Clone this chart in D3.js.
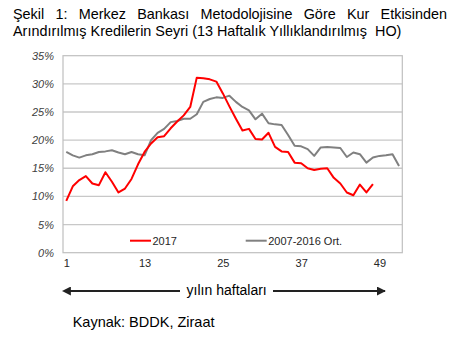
<!DOCTYPE html>
<html>
<head>
<meta charset="utf-8">
<script src="https://cdn.jsdelivr.net/npm/d3@7"></script>
<style>
  html, body { margin: 0; padding: 0; background: #fff; }
  svg { display: block; font-family: Arial, "Liberation Sans", sans-serif; }
</style>
</head>
<body>
<svg id="chart" width="451" height="339"></svg>
<script>
// Weekly annualised (13-week) credit growth, %
const weeks = d3.range(1, 53);
const series2017 = [
  9.2, 11.8, 12.9, 13.6, 12.3, 12.0, 14.3, 12.6, 10.7, 11.4,
  13.1, 15.7, 17.9, 19.4, 20.5, 20.7, 22.1, 23.3, 24.4, 25.9,
  31.1, 31.0, 30.8, 30.4, 28.3, 26.0, 23.8, 21.7, 22.0, 20.2,
  20.1, 21.3, 18.8, 18.0, 17.9, 16.0, 15.9, 15.0, 14.7, 14.9,
  15.0, 13.3, 12.3, 10.7, 10.2, 12.1, 10.7, 12.2
];
const seriesAvg = [
  17.9, 17.3, 16.9, 17.3, 17.5, 17.9, 18.0, 18.2, 17.8, 17.5,
  17.9, 17.5, 17.3, 20.0, 21.3, 22.0, 23.2, 23.4, 23.8, 23.8,
  24.6, 26.8, 27.3, 27.6, 27.5, 27.9, 26.8, 25.9, 25.3, 23.7,
  24.7, 23.0, 22.8, 22.7, 20.9, 19.0, 18.9, 18.4, 17.2, 18.7,
  18.8, 18.7, 18.6, 17.0, 17.8, 17.5, 16.0, 16.9, 17.2, 17.3,
  17.5, 15.4
];
const xTicks = [1, 13, 25, 37, 49];
const yTicks = [0, 5, 10, 15, 20, 25, 30, 35];
const seriesNames = ["2017", "2007-2016 Ort."];
const titleLines = [
  "Şekil 1: Merkez Bankası Metodolojisine Göre Kur Etkisinden",
  "Arındırılmış Kredilerin Seyri (13 Haftalık Yıllıklandırılmış  HO)"
];
const axisTitle = "yılın haftaları";
const sourceText = "Kaynak: BDDK, Ziraat";

const svg = d3.select("#chart");

const plot = { left: 63, right: 402.3, top: 55.7, bottom: 252.7 };
const x = d3.scaleLinear().domain([0.5, 52.5]).range([plot.left, plot.right]);
const y = d3.scaleLinear().domain([0, 35]).range([plot.bottom, plot.top]);

// Title: first line justified to the page width, last line left as set
const titleLeft = 13, titleRight = 447;
titleLines.forEach((line, i) => {
  const t = svg.append("text")
    .attr("x", titleLeft)
    .attr("y", 18.5 + i * 17.8)
    .attr("font-size", 14.4)
    .attr("fill", "#000")
    .style("white-space", "pre")
    .text(line);
  if (i < titleLines.length - 1) {
    const natural = t.node().getComputedTextLength();
    const gaps = (line.match(/ /g) || []).length;
    t.attr("word-spacing", (titleRight - titleLeft - natural) / gaps);
  }
});

// Horizontal gridlines
svg.append("g")
  .selectAll("line")
  .data(yTicks.filter(v => v > 0 && v < 35))
  .join("line")
  .attr("x1", plot.left).attr("x2", plot.right)
  .attr("y1", d => y(d)).attr("y2", d => y(d))
  .attr("stroke", "#c8c8c8")
  .attr("stroke-width", 1.3);

// Plot frame
svg.append("rect")
  .attr("x", plot.left).attr("y", plot.top)
  .attr("width", plot.right - plot.left)
  .attr("height", plot.bottom - plot.top)
  .attr("fill", "none")
  .attr("stroke", "#bfbfbf")
  .attr("stroke-width", 1.2);

// Y axis labels
const yAxis = d3.axisLeft(y).tickValues(yTicks).tickSize(0).tickPadding(9)
  .tickFormat(d => d + "%");
svg.append("g")
  .attr("transform", `translate(${plot.left},0)`)
  .call(yAxis)
  .call(g => g.select(".domain").remove())
  .call(g => g.selectAll("text")
    .attr("font-family", "Arial, 'Liberation Sans', sans-serif")
    .attr("font-size", 11)
    .attr("font-style", "italic")
    .attr("fill", "#404040"));

// X axis labels
const xAxis = d3.axisBottom(x).tickValues(xTicks).tickSize(0).tickPadding(7)
  .tickFormat(d3.format("d"));
svg.append("g")
  .attr("transform", `translate(0,${plot.bottom})`)
  .call(xAxis)
  .call(g => g.select(".domain").remove())
  .call(g => g.selectAll("text")
    .attr("font-family", "Arial, 'Liberation Sans', sans-serif")
    .attr("font-size", 11)
    .attr("fill", "#262626"));

// Lines
const line = d3.line()
  .x((d, i) => x(weeks[i]))
  .y(d => y(d));

svg.append("path")
  .datum(seriesAvg)
  .attr("d", line)
  .attr("fill", "none")
  .attr("stroke", "#808080")
  .attr("stroke-width", 2)
  .attr("stroke-linejoin", "round");

svg.append("path")
  .datum(series2017)
  .attr("d", line)
  .attr("fill", "none")
  .attr("stroke", "#ff0000")
  .attr("stroke-width", 2)
  .attr("stroke-linejoin", "round");

// Legend
const legend = [
  { name: seriesNames[0], color: "#ff0000", x0: 130 },
  { name: seriesNames[1], color: "#808080", x0: 245.7 }
];
const legY = 240.7;
legend.forEach(l => {
  svg.append("line")
    .attr("x1", l.x0).attr("x2", l.x0 + 21)
    .attr("y1", legY).attr("y2", legY)
    .attr("stroke", l.color).attr("stroke-width", 2);
  svg.append("text")
    .attr("x", l.x0 + 22.5).attr("y", legY)
    .attr("dy", "0.35em")
    .attr("font-size", 11)
    .attr("fill", "#262626")
    .text(l.name);
});

// Axis direction arrow with caption
const arrowY = 291;
const defs = svg.append("defs");
["start", "end"].forEach(k => {
  defs.append("marker")
    .attr("id", "arrow-" + k)
    .attr("viewBox", "0 0 10 10")
    .attr("refX", k === "end" ? 9 : 1)
    .attr("refY", 5)
    .attr("markerWidth", 4.5)
    .attr("markerHeight", 4.5)
    .attr("orient", k === "end" ? "0" : "180")
    .attr("markerUnits", "strokeWidth")
    .append("path")
    .attr("d", "M0,0 L10,5 L0,10 Z")
    .attr("fill", "#222");
});

svg.append("line")
  .attr("x1", 70).attr("x2", 180)
  .attr("y1", arrowY).attr("y2", arrowY)
  .attr("stroke", "#222").attr("stroke-width", 2)
  .attr("marker-start", "url(#arrow-start)");
svg.append("line")
  .attr("x1", 273).attr("x2", 385)
  .attr("y1", arrowY).attr("y2", arrowY)
  .attr("stroke", "#222").attr("stroke-width", 2)
  .attr("marker-end", "url(#arrow-end)");
svg.append("text")
  .attr("x", 226.7).attr("y", arrowY)
  .attr("dy", "0.32em")
  .attr("text-anchor", "middle")
  .attr("font-size", 14)
  .attr("fill", "#000")
  .text(axisTitle);

// Source note
svg.append("text")
  .attr("x", 72.7).attr("y", 327)
  .attr("font-size", 14.5)
  .attr("fill", "#000")
  .text(sourceText);
</script>
</body>
</html>
